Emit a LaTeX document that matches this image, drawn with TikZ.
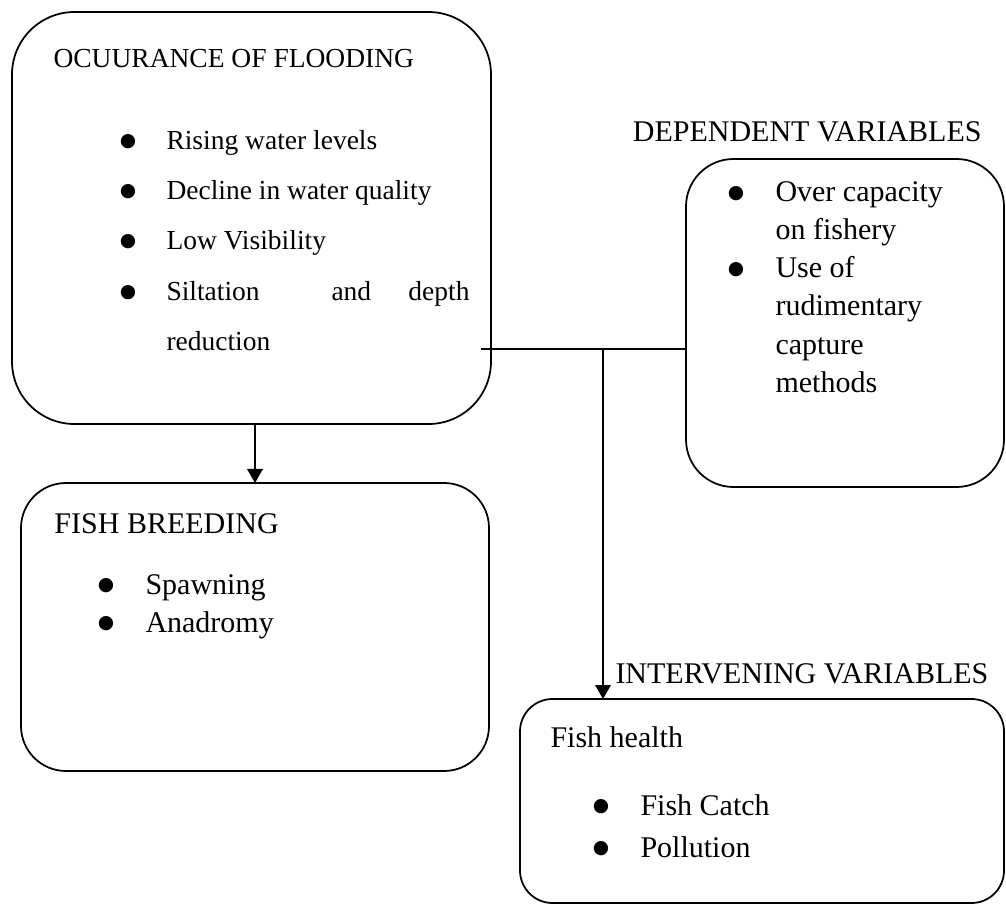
\documentclass[tikz,border=0pt]{standalone}
\usepackage{fontspec}
\setmainfont{Liberation Serif}
\newfontfamily\dotfont{DejaVu Sans}
\usetikzlibrary{positioning}
\usetikzlibrary{arrows.meta}
\newcommand{\bigdot}{{\dotfont\fontsize{7.5}{8}\selectfont\raisebox{1.4pt}{●}}}
\tikzset{
    every picture/.style={>={Triangle[length=5.6pt,width=6.2pt]},x=0.4pt,y=-0.4pt},
    box/.style={draw,line width=0.7pt,inner sep=0pt,outer sep=0pt},
    txt/.style={anchor=base west,inner sep=0pt,font=\fontsize{12}{14}\selectfont},
    small/.style={txt,font=\fontsize{11}{13}\selectfont},
    dot/.style={txt,anchor=base},
    link/.style={line width=0.8pt},
}

\begin{document}
\begin{tikzpicture}
\useasboundingbox (0,0) rectangle (1006,905);

% boxes
\node[box,rounded corners=25pt,minimum width=191.6pt,minimum height=164.8pt] (flood) at (251.5,218) {};
\node[box,rounded corners=18pt,minimum width=187.2pt,minimum height=115.2pt] (breeding) at (255,627) {};
\node[box,rounded corners=19pt,minimum width=127.2pt,minimum height=131.2pt] (dep) at (845,323) {};
\node[box,rounded corners=13pt,minimum width=193.6pt,minimum height=81.6pt] (inter) at (762,801) {};

% flooding
\node[small] (floodtitle) at (53,68) {OCUURANCE OF FLOODING};
\foreach \y/\t [count=\i] in {150/Rising water levels,200/Decline in water quality,250/Low Visibility,301/Siltation}{
  \node[dot] (fb\i) at (128,\y) {\bigdot};
  \node[small] (f\i) at (166,\y) {\t};
}
\node[small] (fand) at (331,301) {and};
\node[small,anchor=base east] (fdepth) at (470,301) {depth};
\node[small] (f5) at (166,351) {reduction};

% breeding
\node[txt] (breedtitle) at (54,533) {FISH BREEDING};
\foreach \y/\t [count=\i] in {594/Spawning,632/Anadromy}{
  \node[dot] (bb\i) at (106,\y) {\bigdot};
  \node[txt] (b\i) at (145,\y) {\t};
}

% dependent
\node[txt,anchor=base east] (deptitle) at (982,142) {DEPENDENT VARIABLES};
\node[dot] (db1) at (736,202) {\bigdot};
\node[dot] (db2) at (736,278) {\bigdot};
\foreach \y/\t [count=\i] in {202/Over capacity,240/on fishery,278/Use of,316/rudimentary,354/capture,392/methods}{
  \node[txt] (d\i) at (775,\y) {\t};
}

% intervening
\node[txt] (intertitle) at (615,683) {INTERVENING VARIABLES};
\node[txt] (health) at (550,747) {Fish health};
\foreach \y/\t [count=\i] in {815/Fish Catch,857/Pollution}{
  \node[dot] (ib\i) at (601,\y) {\bigdot};
  \node[txt] (i\i) at (640,\y) {\t};
}

% connectors
\coordinate (j0) at (481,349);
\coordinate (j1) at (603,349);
\draw[link,->] (breeding.north |- flood.south) -- (breeding.north);
\draw[link] (j0) -- (j0 -| dep.west);
\draw[link,->] (j1) -- (j1 |- inter.north);

\end{tikzpicture}
\end{document}
